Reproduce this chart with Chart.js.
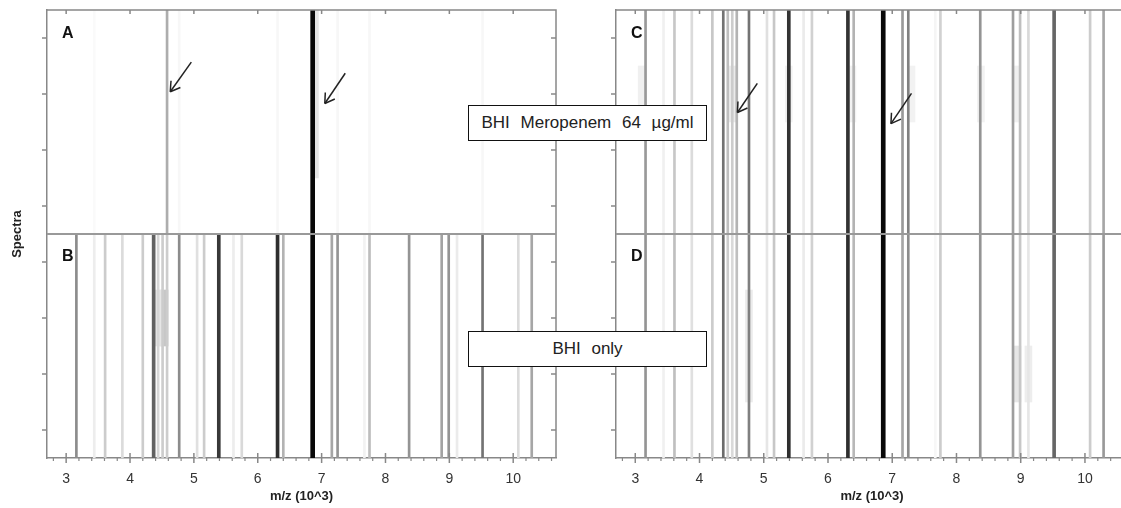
<!DOCTYPE html>
<html>
<head>
<meta charset="utf-8">
<script src="https://cdn.jsdelivr.net/npm/chart.js@4.4.0/dist/chart.umd.min.js"></script>
<style>
  html, body { margin: 0; padding: 0; background: #fff; }
  body { width: 1121px; height: 508px; position: relative; overflow: hidden; font-family: Arial, "Liberation Sans", sans-serif; }
  .panel { position: absolute; top: 0; height: 508px; }
  #leftPanel { left: 0; width: 570px; }
  #rightPanel { left: 600px; width: 530px; }
  .label-box {
    position: absolute; left: 468px; width: 237px; height: 34px;
    border: 1.5px solid #111; background: #fff; color: #222;
    font-size: 17px; word-spacing: 6px; line-height: 34px; text-align: center; z-index: 5;
  }
</style>
</head>
<body>
<div class="panel" id="leftPanel"><canvas id="gelLeft"></canvas></div>
<div class="panel" id="rightPanel"><canvas id="gelRight"></canvas></div>
<div class="label-box" style="top:105px">BHI Meropenem 64 µg/ml</div>
<div class="label-box" style="top:331px">BHI only</div>
<script>
// m/z axis (x 1000)
const mzTicks = [3, 4, 5, 6, 7, 8, 9, 10];
const mzRange = [2.7, 10.67];
// 8 spectra per panel, 4 in each sub-panel
const spectraRows = [0, 1, 2, 3, 4, 5, 6, 7];

// peak positions common to all spectra
const peakMz = [3.16, 3.44, 3.61, 3.88, 4.20, 4.37, 4.44, 4.51, 4.58, 4.77,
                5.05, 5.16, 5.39, 5.62, 5.75, 6.31, 6.40, 6.86, 7.16, 7.25,
                7.67, 7.75, 8.37, 8.88, 8.99, 9.12, 9.52, 10.08, 10.29];

// gray level of each peak (0 = absent, 1 = black)
const intensityA = [0, 0.02, 0, 0, 0, 0, 0, 0, 0.32, 0.03,
                    0, 0, 0, 0, 0, 0.03, 0, 0.97, 0, 0.03,
                    0, 0.03, 0, 0, 0, 0, 0.03, 0, 0];
const intensityB = [0.45, 0.07, 0.2, 0.14, 0.2, 0.62, 0.16, 0.2, 0.2, 0.45,
                    0.12, 0.2, 0.78, 0.07, 0.15, 0.82, 0.3, 0.97, 0.35, 0.42,
                    0.05, 0.26, 0.42, 0.36, 0.42, 0.08, 0.55, 0.14, 0.35];
const intensityC = [0.4, 0.06, 0.22, 0.14, 0.22, 0.55, 0.25, 0.2, 0.3, 0.55,
                    0.12, 0.22, 0.8, 0.08, 0.18, 0.8, 0.3, 0.97, 0.4, 0.5,
                    0.04, 0.18, 0.42, 0.38, 0.25, 0.15, 0.6, 0.2, 0.35];
const intensityD = [0.42, 0.06, 0.25, 0.12, 0.2, 0.58, 0.2, 0.15, 0.25, 0.5,
                    0.1, 0.22, 0.82, 0.08, 0.18, 0.82, 0.28, 0.97, 0.35, 0.45,
                    0.03, 0.2, 0.42, 0.38, 0.22, 0.1, 0.6, 0.2, 0.4];

// faint smudges in single spectra: [m/z, first spectrum, last spectrum, gray level]
const smudgesLeft = [[6.895, 0, 2, 0.1], [4.54, 5, 5, 0.22], [4.45, 5, 5, 0.1]];
const smudgesRight = [[3.10, 1, 1, 0.06], [4.52, 1, 1, 0.08], [5.39, 1, 1, 0.05],
                      [6.38, 1, 1, 0.05], [7.3, 1, 1, 0.05], [8.38, 1, 1, 0.05],
                      [8.92, 1, 1, 0.06], [8.95, 6, 6, 0.1], [9.12, 6, 6, 0.07],
                      [4.77, 5, 6, 0.08]];

// arrows [tail m/z, tail spectrum, tip m/z, tip spectrum]
const arrowsLeft = [[4.96, 0.93, 4.63, 1.46], [7.37, 1.13, 7.05, 1.67]];
const arrowsRight = [[4.90, 1.31, 4.59, 1.83], [7.30, 1.49, 6.98, 2.03]];

Chart.defaults.font.family = 'Arial, "Liberation Sans", sans-serif';

function grayOf(v) {
    var g = Math.round(255 * (1 - v));
    return 'rgb(' + g + ',' + g + ',' + g + ')';
}

function buildDatasets(top, bottom, smudges) {
    var groups = {};
    [[top, 0], [bottom, 4]].forEach(function (pair) {
        pair[0].forEach(function (v, i) {
            if (v <= 0) return;
            var w = v >= 0.9 ? 4 : (v >= 0.6 ? 3 : 2);
            groups[w] = groups[w] || [];
            groups[w].push({ x: peakMz[i], y: [pair[1], pair[1] + 4], g: v });
        });
    });
    var sets = Object.keys(groups).map(function (w) {
        return { data: groups[w], barThickness: +w, order: 1 };
    });
    sets.push({
        data: smudges.map(function (s) { return { x: s[0], y: [s[1], s[2] + 1], g: s[3] }; }),
        barThickness: 7, order: 3
    });
    sets.forEach(function (d) {
        d.grouped = false;
        d.borderWidth = 0;
        d.backgroundColor = function (ctx) { return ctx.raw ? grayOf(ctx.raw.g) : '#fff'; };
    });
    return sets;
}

function line(ctx, x1, y1, x2, y2) {
    ctx.beginPath();
    ctx.moveTo(x1, y1);
    ctx.lineTo(x2, y2);
    ctx.stroke();
}

const gelFrame = {
    id: 'gelFrame',
    afterDraw(chart, args, opts) {
        const ctx = chart.ctx, a = chart.chartArea, x = chart.scales.x, y = chart.scales.y;
        ctx.save();
        ctx.strokeStyle = '#888';
        ctx.lineWidth = 1.5;
        ctx.beginPath();
        ctx.moveTo(a.left, a.top);
        ctx.lineTo(a.right, a.top);
        ctx.lineTo(a.right, a.bottom);
        ctx.stroke();

        // spectrum ticks
        spectraRows.forEach(function (r) {
            var py = y.getPixelForValue(r + 0.5);
            line(ctx, a.left - 5, py, a.left, py);
            line(ctx, a.right - 5, py, a.right, py);
        });
        // m/z ticks
        mzTicks.forEach(function (v) {
            var px = x.getPixelForValue(v);
            line(ctx, px, a.bottom - 5, px, a.bottom + 5);
            line(ctx, px, a.top, px, a.top + 4);
        });
        ctx.lineWidth = 1.2;
        for (var m = mzTicks[0] - 1; m <= mzTicks[mzTicks.length - 1]; m++) {
            for (var j = 1; j < 5; j++) {
                var v = m + j * 0.2;
                if (v < x.min || v > x.max) continue;
                var px = x.getPixelForValue(v);
                line(ctx, px, a.bottom, px, a.bottom + 3);
            }
        }

        // separator between the two groups of spectra
        ctx.strokeStyle = '#999';
        ctx.lineWidth = 2;
        var ySep = y.getPixelForValue(4);
        line(ctx, a.left, ySep, a.right, ySep);

        // panel letters
        ctx.fillStyle = '#111';
        ctx.font = 'bold 16px Arial, "Liberation Sans", sans-serif';
        ctx.textBaseline = 'alphabetic';
        ctx.fillText(opts.letters[0], a.left + 15, y.getPixelForValue(0) + 28);
        ctx.fillText(opts.letters[1], a.left + 15, y.getPixelForValue(4) + 27);

        // arrows
        ctx.strokeStyle = '#222';
        ctx.lineWidth = 1.5;
        opts.arrows.forEach(function (ar) {
            var x1 = x.getPixelForValue(ar[0]), y1 = y.getPixelForValue(ar[1]);
            var x2 = x.getPixelForValue(ar[2]), y2 = y.getPixelForValue(ar[3]);
            line(ctx, x1, y1, x2, y2);
            var ang = Math.atan2(y2 - y1, x2 - x1);
            [0.55, -0.55].forEach(function (d) {
                line(ctx, x2, y2, x2 - 11 * Math.cos(ang + d), y2 - 11 * Math.sin(ang + d));
            });
        });
        ctx.restore();
    }
};

function makeGel(canvasId, top, bottom, smudges, letters, arrows, showYTitle, yWidth) {
    return new Chart(document.getElementById(canvasId), {
        type: 'bar',
        data: { datasets: buildDatasets(top, bottom, smudges) },
        options: {
            responsive: true,
            maintainAspectRatio: false,
            animation: false,
            layout: { padding: { top: 10, right: showYTitle ? 14 : 2, bottom: 0, left: 0 } },
            plugins: {
                legend: { display: false },
                tooltip: { enabled: false },
                gelFrame: { letters: letters, arrows: arrows }
            },
            scales: {
                x: {
                    type: 'linear',
                    min: mzRange[0],
                    max: mzRange[1],
                    offset: false,
                    grid: { display: false, offset: false },
                    border: { display: true, color: '#888', width: 1.5 },
                    afterBuildTicks: function (s) { s.ticks = mzTicks.map(function (v) { return { value: v }; }); },
                    ticks: { color: '#333', font: { size: 14 }, padding: 5, maxRotation: 0, autoSkip: false },
                    title: { display: true, text: 'm/z (10^3)', color: '#222', font: { size: 13, weight: 'bold' }, padding: { top: 0, bottom: 4 } },
                    afterFit: function (s) { s.height = 50; }
                },
                y: {
                    type: 'linear',
                    min: 0,
                    max: spectraRows.length,
                    reverse: true,
                    grid: { display: false },
                    border: { display: true, color: '#888', width: 1.5 },
                    ticks: { display: false },
                    title: { display: showYTitle, text: 'Spectra', color: '#222', font: { size: 13, weight: 'bold' }, padding: { top: 10, bottom: 0 } },
                    afterFit: function (s) { s.width = yWidth; }
                }
            }
        },
        plugins: [gelFrame]
    });
}

makeGel('gelLeft', intensityA, intensityB, smudgesLeft, ['A', 'B'], arrowsLeft, true, 47);
makeGel('gelRight', intensityC, intensityD, smudgesRight, ['C', 'D'], arrowsRight, false, 16);
</script>
</body>
</html>
